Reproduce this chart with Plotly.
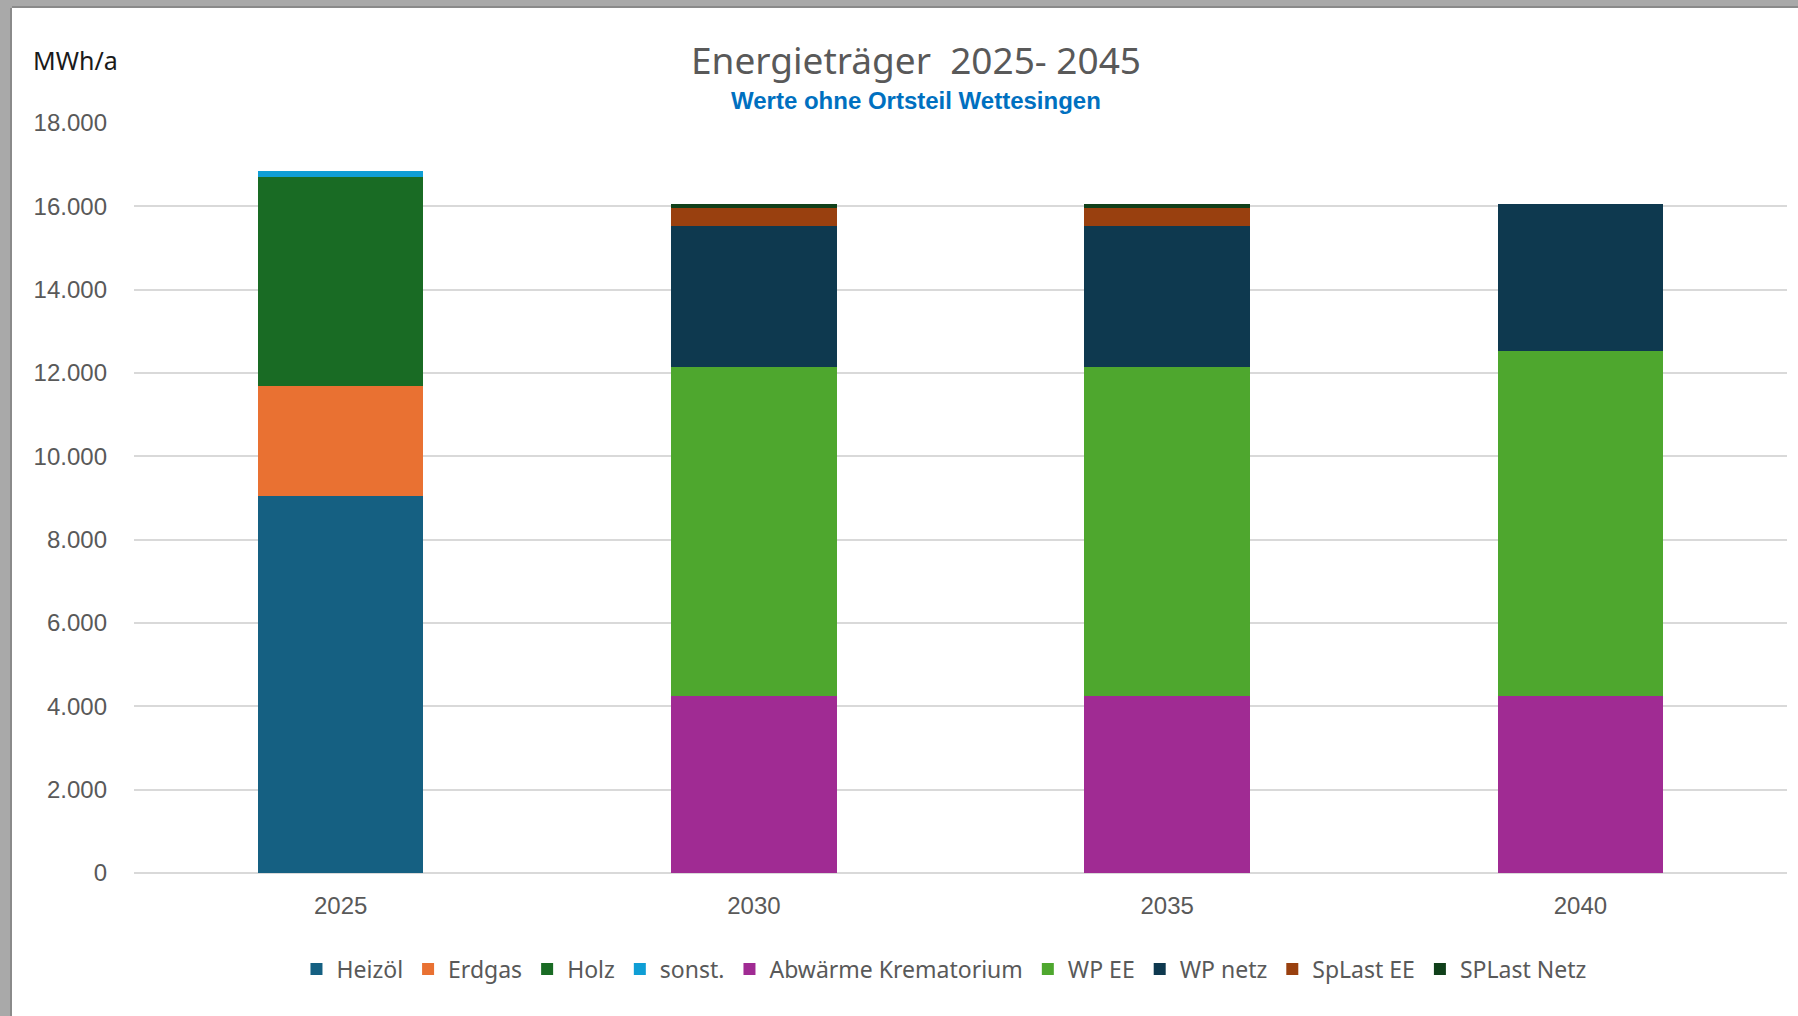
import plotly.graph_objects as go

years = ["2025", "2030", "2035", "2040"]
series_names = ["Heizöl", "Erdgas", "Holz", "sonst.", "Abwärme Krematorium",
                "WP EE", "WP netz", "SpLast EE", "SPLast Netz"]
heizoel = [9050, None, None, None]
erdgas = [2640, None, None, None]
holz = [5020, None, None, None]
sonst = [140, None, None, None]
abwaerme = [None, 4240, 4240, 4240]
wp_ee = [None, 7900, 7900, 8290]
wp_netz = [None, 3400, 3400, 3520]
splast_ee = [None, 410, 410, None]
splast_netz = [None, 100, 100, None]
series_values = [heizoel, erdgas, holz, sonst, abwaerme, wp_ee, wp_netz, splast_ee, splast_netz]
colors = ["#156082", "#E97132", "#196B24", "#0F9ED5", "#A02B93",
          "#4EA72E", "#0E394F", "#99400F", "#10401A"]
y_ticks = [0, 2000, 4000, 6000, 8000, 10000, 12000, 14000, 16000, 18000]

fig = go.Figure()
for name, vals, col in zip(series_names, series_values, colors):
    fig.add_trace(go.Bar(x=years, y=vals, name=name, marker=dict(color=col, line=dict(width=0))))

W, H = 1798, 1016
ml, mr, mt, mb = 134, 11, 123, 143
fig.update_layout(
    width=W, height=H,
    barmode="stack", bargap=0.6,
    separators=",.",
    paper_bgcolor="white", plot_bgcolor="white",
    margin=dict(l=ml, r=mr, t=mt, b=mb, pad=0),
    font=dict(family="Liberation Sans, Arial", color="#595959"),
    xaxis=dict(type="category", showgrid=False, showline=False, ticks="",
               tickfont=dict(size=24, color="#595959"), ticklabelstandoff=16),
    yaxis=dict(range=[0, 18000], tickvals=y_ticks, tickformat=",", showgrid=True,
               gridcolor="#d9d9d9", gridwidth=2, zeroline=True, zerolinecolor="#d9d9d9",
               zerolinewidth=2, showline=False, ticks="", tickfont=dict(size=24, color="#595959"),
               ticklabelstandoff=26),
    legend=dict(orientation="h", x=0.49, xanchor="center", y=-0.128, yanchor="middle",
                font=dict(family="Noto Sans", size=23, color="#595959"),
                traceorder="normal", itemwidth=30, tracegroupgap=0),
    showlegend=True,
)

def px_x(x):
    return (x - ml) / (W - ml - mr)

def px_y(y):
    return (H - mb - y) / (H - mt - mb)

fig.add_annotation(text="Energieträger  2025- 2045", x=px_x(916), y=px_y(60), xref="paper", yref="paper",
                   showarrow=False, xanchor="center", yanchor="middle",
                   font=dict(family="Noto Sans", size=37, color="#595959"))
fig.add_annotation(text="<b>Werte ohne Ortsteil Wettesingen</b>", x=px_x(916), y=px_y(101), xref="paper", yref="paper",
                   showarrow=False, xanchor="center", yanchor="middle",
                   font=dict(family="Liberation Sans, Arial", size=24, color="#0070C0"))
fig.add_annotation(text="MWh/a", x=px_x(31), y=px_y(60), xref="paper", yref="paper",
                   showarrow=False, xanchor="left", yanchor="middle",
                   font=dict(family="Noto Sans", size=25, color="#1a1a1a"))

# window frame (grey border top and left)
fig.add_shape(type="rect", xref="paper", yref="paper", x0=px_x(0), x1=px_x(W), y0=px_y(0), y1=px_y(8),
              fillcolor="#a9a9a9", line=dict(width=0), layer="above")
fig.add_shape(type="rect", xref="paper", yref="paper", x0=px_x(0), x1=px_x(W), y0=px_y(6), y1=px_y(8),
              fillcolor="#8a8a8a", line=dict(width=0), layer="above")
fig.add_shape(type="rect", xref="paper", yref="paper", x0=px_x(0), x1=px_x(12), y0=px_y(0), y1=px_y(H),
              fillcolor="#a9a9a9", line=dict(width=0), layer="above")
fig.add_shape(type="rect", xref="paper", yref="paper", x0=px_x(10), x1=px_x(12), y0=px_y(8), y1=px_y(H),
              fillcolor="#8a8a8a", line=dict(width=0), layer="above")

fig.write_html("out.html", config={"displayModeBar": False},
               post_script="document.body.style.margin='0';document.body.style.overflow='hidden';")
